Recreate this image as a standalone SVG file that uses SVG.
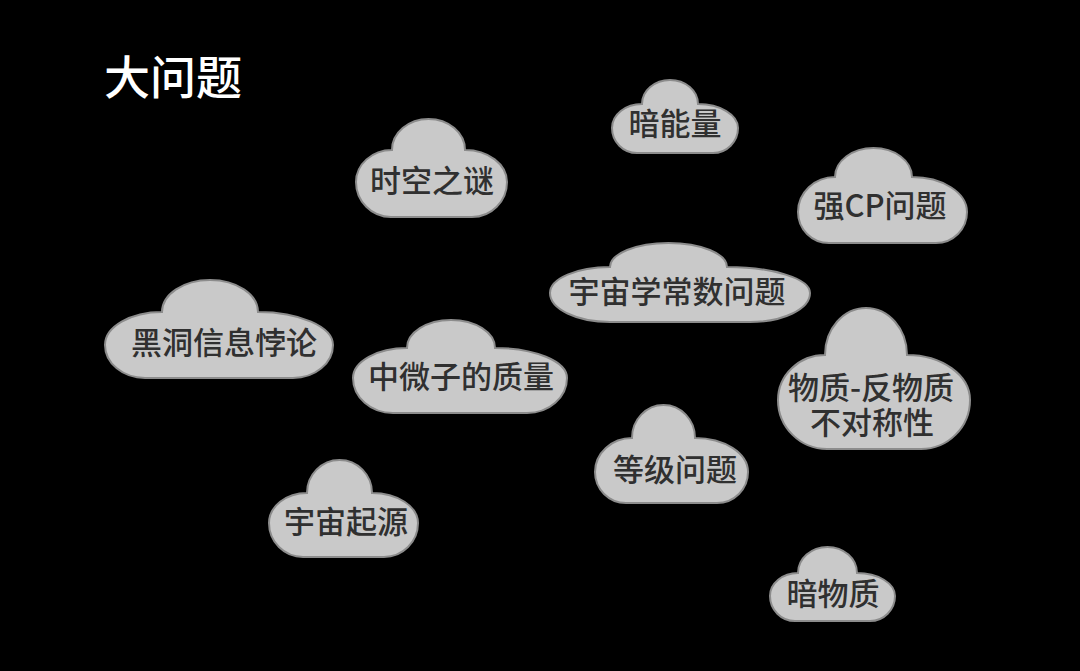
<svg xmlns="http://www.w3.org/2000/svg" width="1080" height="671" viewBox="0 0 1080 671">
<style>
.cloud{fill:#c9c9c9;stroke:#8c8c8c;stroke-width:2}
.lbl{font-family:"Noto Sans CJK SC","Noto Sans",sans-serif;font-size:31px;font-weight:500;fill:#303030;text-anchor:middle;dominant-baseline:central}
.title{font-family:"Noto Sans CJK SC","Noto Sans",sans-serif;font-size:46px;font-weight:500;fill:#ffffff;dominant-baseline:central}
</style>
<rect width="1080" height="671" fill="#000"/>
<text class="title" x="104" y="74">大问题</text>
<g id="n-shikong"><path class="cloud" d="M356,182 A36,32 0 0 1 392,150 A36.5,31 0 0 1 465,150 A42,32 0 0 1 507,182 A35,35 0 0 1 472,217 L391,217 A35,35 0 0 1 356,182 Z"/><text class="lbl" x="432" y="178">时空之谜</text></g>
<g id="n-annengliang"><path class="cloud" d="M612,128 A30,24 0 0 1 642,104 A28,24 0 0 1 698,104 A40,24 0 0 1 738,128 A25,25 0 0 1 713,153 L637,153 A25,25 0 0 1 612,128 Z"/><text class="lbl" x="675" y="121">暗能量</text></g>
<g id="n-cosmo"><path class="cloud" d="M550,293 A60,26 0 0 1 610,267 A58.5,24 0 0 1 727,267 A83,26 0 0 1 810,293 A60,29 0 0 1 750,322 L610,322 A60,29 0 0 1 550,293 Z"/><text class="lbl" x="677" y="289">宇宙学常数问题</text></g>
<g id="n-strongcp"><path class="cloud" d="M798,212 A37,35 0 0 1 835,177 A38.5,29 0 0 1 912,177 A55,35 0 0 1 967,212 A31,31 0 0 1 936,243 L829,243 A31,31 0 0 1 798,212 Z"/><text class="lbl" x="880" y="203">强CP问题</text></g>
<g id="n-blackhole"><path class="cloud" d="M105,345 A57,33 0 0 1 162,312 A48,32 0 0 1 258,312 A75,33 0 0 1 333,345 A40,33 0 0 1 293,378 L145,378 A40,33 0 0 1 105,345 Z"/><text class="lbl" x="224" y="340">黑洞信息悖论</text></g>
<g id="n-neutrino"><path class="cloud" d="M353,378 A54,30 0 0 1 407,348 A44,28 0 0 1 495,348 A72,30 0 0 1 567,378 A40,35 0 0 1 527,413 L393,413 A40,35 0 0 1 353,378 Z"/><text class="lbl" x="461" y="374">中微子的质量</text></g>
<g id="n-asym"><path class="cloud" d="M778,400 A47,45 0 0 1 825,355 A41,47 0 0 1 907,355 A63,45 0 0 1 970,400 A49,49 0 0 1 921,449 L827,449 A49,49 0 0 1 778,400 Z"/><text class="lbl"><tspan x="871" y="385">物质-反物质</tspan><tspan x="872" y="420">不对称性</tspan></text></g>
<g id="n-hierarchy"><path class="cloud" d="M595,472 A37,34 0 0 1 632,438 A31.5,33 0 0 1 695,438 A53,34 0 0 1 748,472 A31,31 0 0 1 717,503 L626,503 A31,31 0 0 1 595,472 Z"/><text class="lbl" x="675" y="467">等级问题</text></g>
<g id="n-origin"><path class="cloud" d="M269,523 A38,30 0 0 1 307,493 A32.5,33 0 0 1 372,493 A46,30 0 0 1 418,523 A34,34 0 0 1 384,557 L303,557 A34,34 0 0 1 269,523 Z"/><text class="lbl" x="346" y="519">宇宙起源</text></g>
<g id="n-darkmatter"><path class="cloud" d="M770,596 A28,23 0 0 1 798,573 A29.5,26 0 0 1 857,573 A38,23 0 0 1 895,596 A25,25 0 0 1 870,621 L795,621 A25,25 0 0 1 770,596 Z"/><text class="lbl" x="833" y="591">暗物质</text></g>
<g id="connectors"></g>
</svg>
